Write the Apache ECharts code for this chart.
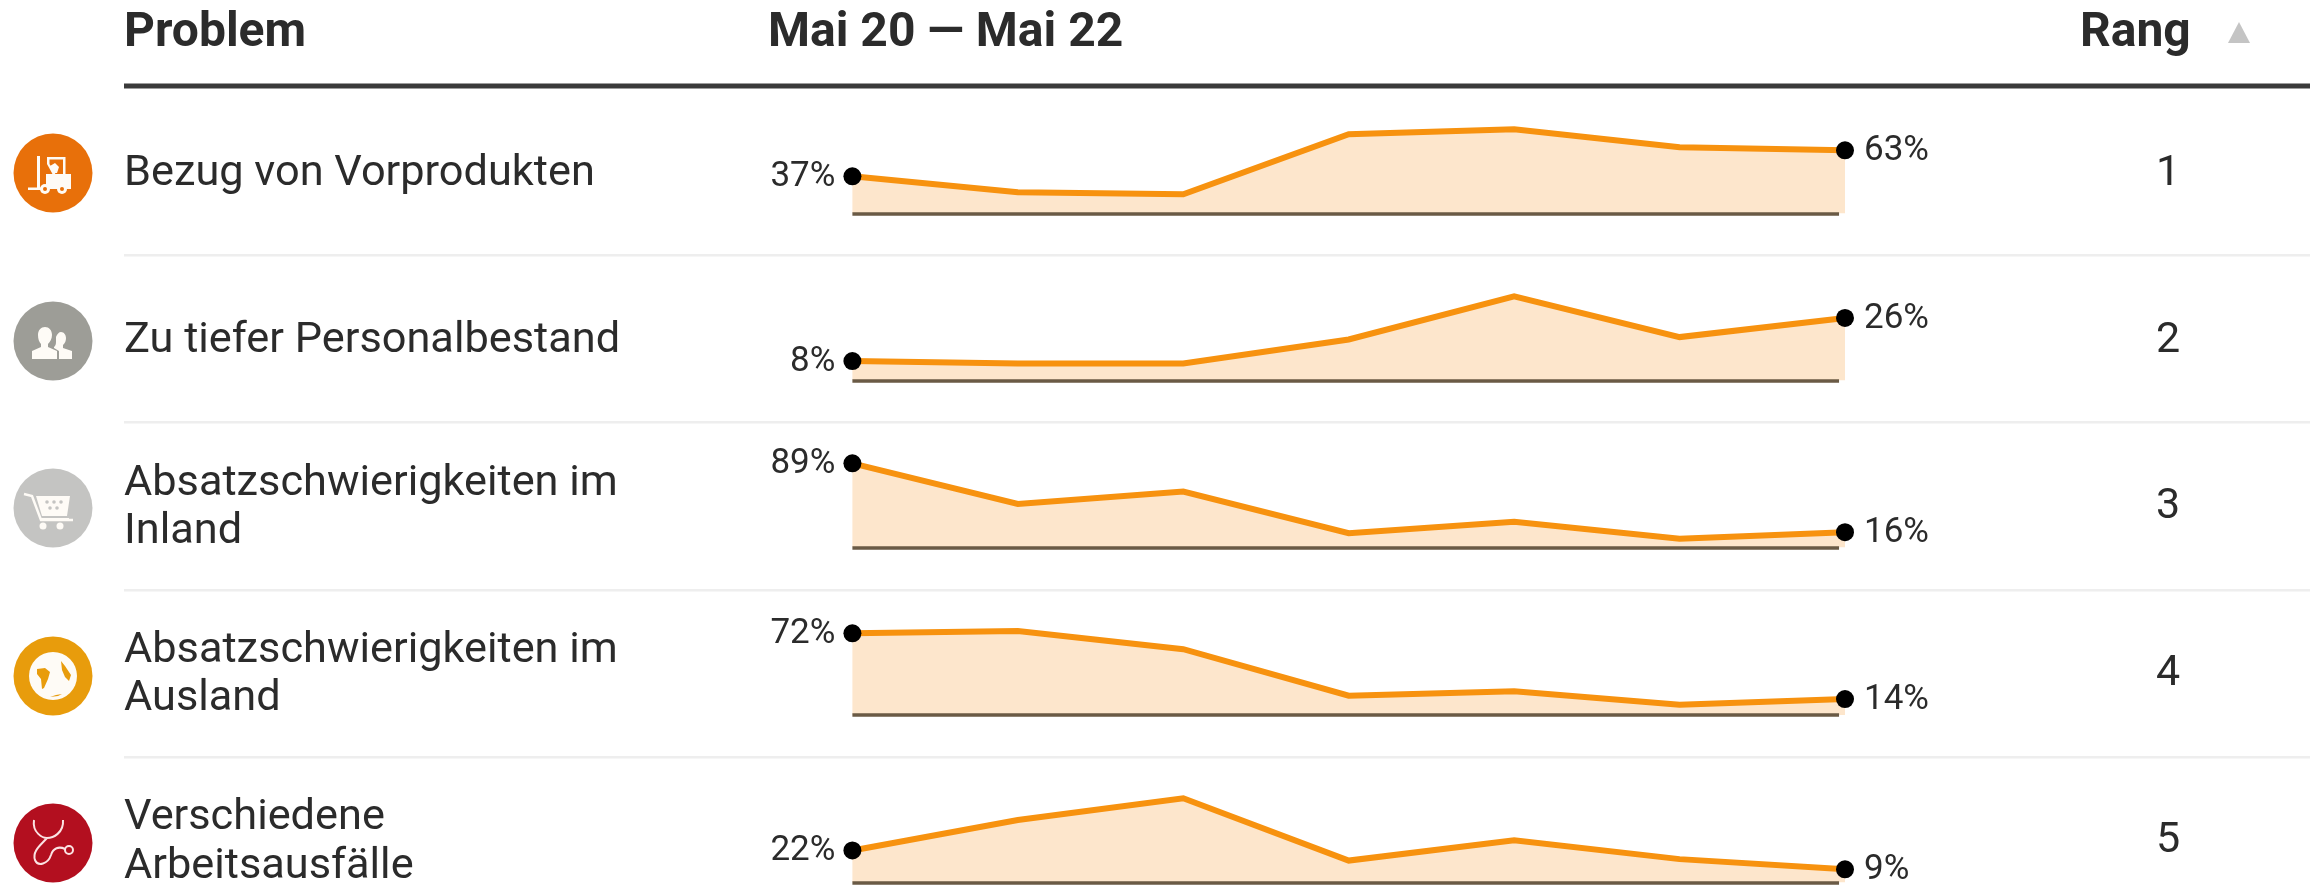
<!DOCTYPE html>
<html><head><meta charset="utf-8">
<style>html,body{margin:0;padding:0;background:#fff}#c{width:2311px;height:885px}</style>
<script src="https://cdn.jsdelivr.net/npm/echarts@6/dist/echarts.min.js"></script>
</head><body><div id="c"></div>
<script>
const headers = ['Problem', 'Mai 20 — Mai 22', 'Rang'];
const problems = [['Bezug von Vorprodukten'], ['Zu tiefer Personalbestand'], ['Absatzschwierigkeiten im', 'Inland'], ['Absatzschwierigkeiten im', 'Ausland'], ['Verschiedene', 'Arbeitsausfälle']];
const ranks = [1, 2, 3, 4, 5];
const row1 = [37, 21, 19, 79, 84, 66, 63];
const row2 = [8, 7, 7, 17, 35, 18, 26];
const row3 = [89, 46, 59, 15, 27, 9, 16];
const row4 = [72, 74, 58, 17, 21, 9, 14];
const row5 = [22, 43, 58, 15, 29, 16, 9];
const rows = [row1, row2, row3, row4, row5];
const iconColors = ['#E8700A', '#9D9D97', '#C4C4C2', '#E89C0C', '#B30F1F'];

const baselines = [213.3, 380.3, 547.3, 715, 882.3];
const iconY = [173, 341, 508, 676, 843];
const textY = [[174.5], [341.5], [484.5, 532.5], [651.5, 699.5], [818.5, 867.5]];
const rankY = [174, 341, 507, 674, 841];
const sepY = [255, 422, 590, 757];
const FONT = 'Roboto';
const DARK = '#2b2b2b';
const ICON = '#FEFBF6';

const icons = [
 // forklift
 [{f:'M-16,-17h3v32h-3z M-25,14.5h17v2.5h-17z M-7,1h25v15h-25z M-6,-16h18v2.5h-18z M10,-16h2.5v18h-2.5z M-6,-16h2.5v7l6,10h-3l-5.5,-10z M-3,-7l5,-3l4,4l-2,6h-4z'},
  {c:[-8,16,5]},{c:[9,16,5]},{c:[-8,16,2,'#E8700A']},{c:[9,16,2,'#E8700A']}],
 // people
 [{f:'M-8,-14c4,0 7,3 7,8c0,4 -2,7 -4,9v3l9,4v8h-25v-8l9,-4v-3c-2,-2 -3,-5 -3,-9c0,-5 3,-8 7,-8z'},
  {f:'M8,-9c3,0 5,3 5,6c0,3 -1,5 -3,7v3l9,3v8h-13v-8l-5,-3v-1c1,-1 2,-2 2,-5c0,-1 0,-3 0,-5c1,-3 3,-5 5,-5z'}],
 // cart
 [{s:'M-29,-14L-21,-12L-12,12H20',w:2.5},
  {f:'M-17,-12H17L14,8H-11Z M-13,10H16v2H-13Z'},
  {c:[-10,18,3.5]},{c:[7,18,3.5]},
  {c:[-6,-6,1.8,'#C4C4C2']},{c:[1,-6,1.8,'#C4C4C2']},{c:[8,-6,1.8,'#C4C4C2']},{c:[-3,0,1.8,'#C4C4C2']},{c:[4,0,1.8,'#C4C4C2']}],
 // globe
 [{c:[0,0,24]},
  {f:'M-16,-7L-8,-8L-3,-4L-5,3L-9,12L-11,13L-12,3L-16,-2Z M8,-15L12,-10L18,-1L16,5L12,1L9,-6Z M-3,21L3,19L9,18L5,20Z',col:'#E89C0C'}],
 // stethoscope
 [{s:'M-19,-23C-21,-10 -10,-5 -6,-5C0,-5 11,-10 10,-23 M-6,-5C-12,2 -21,8 -18,17C-15,24 -5,21 -2,12C0,5 6,3 12,6',w:2},
  {r:[16,7,4,2]}]
];

const grids = [], xAxes = [], yAxes = [], series = [], graphic = [];

rows.forEach((vals, r) => {
  grids.push({left: 852.4, width: 992.6, top: baselines[r] - 84, height: 84, containLabel: false});
  xAxes.push({gridIndex: r, type: 'value', min: 0, max: vals.length - 1, show: false});
  yAxes.push({gridIndex: r, type: 'value', min: 0, max: Math.max(...vals), show: false});
  series.push({
    type: 'line', xAxisIndex: r, yAxisIndex: r, z: 3, clip: false,
    showSymbol: true, symbol: 'circle',
    data: vals.map((v, i) => {
      const end = i === 0 || i === vals.length - 1;
      return {
        value: [i, v],
        symbolSize: end ? 18 : 0,
        itemStyle: {color: '#000'},
        label: {show: end, position: i === 0 ? 'left' : 'right', distance: i === 0 ? 8 : 10, offset: [0, 1],
          formatter: v + '%', fontFamily: FONT, fontSize: 35, color: DARK}
      };
    }),
    lineStyle: {color: '#F7920F', width: 6, join: 'miter'},
    areaStyle: {color: '#FDE6CC', opacity: 1},
    markLine: {
      silent: true, symbol: 'none', animation: false, label: {show: false},
      lineStyle: {color: '#6A5A45', width: 3.5, type: 'solid'},
      data: [[{coord: [0, 0]}, {coord: [5.964, 0]}]]
    }
  });
});

// icon badges
series.push({
  type: 'custom', coordinateSystem: 'none', z: 6, silent: true,
  data: iconColors.map((c, i) => [i]),
  renderItem: (params) => {
    const r = params.dataIndex, cx = 53, cy = iconY[r];
    const children = [{type: 'circle', shape: {cx: 0, cy: 0, r: 39.5}, style: {fill: iconColors[r]}}];
    icons[r].forEach(p => {
      if (p.c) children.push({type: 'circle', shape: {cx: p.c[0], cy: p.c[1], r: p.c[2]}, style: {fill: p.c[3] || ICON}});
      else if (p.r) children.push({type: 'circle', shape: {cx: p.r[0], cy: p.r[1], r: p.r[2]}, style: {fill: 'none', stroke: '#FBE3E3', lineWidth: p.r[3]}});
      else if (p.f) children.push({type: 'path', shape: {pathData: p.f}, style: {fill: p.col || ICON}});
      else children.push({type: 'path', shape: {pathData: p.s}, style: {fill: 'none', stroke: r === 4 ? '#FBE3E3' : ICON, lineWidth: p.w}});
    });
    return {type: 'group', x: cx, y: cy, children};
  }
});

function text(x, y, t, size, weight, align) {
  return {type: 'text', x, y, style: {text: t, fontFamily: FONT, fontSize: size, fontWeight: weight || 'normal',
    fill: DARK, align: align || 'left', verticalAlign: 'middle'}, z: 5};
}
graphic.push(text(124, 34, headers[0], 48, 'bold'));
graphic.push(text(768, 34, headers[1], 48, 'bold'));
graphic.push(text(2080, 34, headers[2], 48, 'bold'));
graphic.push({type: 'polygon', shape: {points: [[2239, 22], [2228, 43], [2250, 43]]}, style: {fill: '#C4C4C4'}});
graphic.push({type: 'rect', shape: {x: 124, y: 83.5, width: 2186, height: 5}, style: {fill: '#3A3A3A'}});
sepY.forEach(y => graphic.push({type: 'rect', shape: {x: 124, y: y - 1, width: 2186, height: 2.5}, style: {fill: '#EEEEEE'}}));

problems.forEach((lines, r) => {
  lines.forEach((l, i) => graphic.push(text(124, textY[r][i], l, 43.3)));
  graphic.push(text(2168, rankY[r], String(ranks[r]), 43, 'normal', 'center'));
});

const chart = echarts.init(document.getElementById('c'), null, {renderer: 'canvas'});
chart.setOption({animation: false, backgroundColor: '#fff', grid: grids, xAxis: xAxes, yAxis: yAxes, series, graphic});
</script></body></html>
